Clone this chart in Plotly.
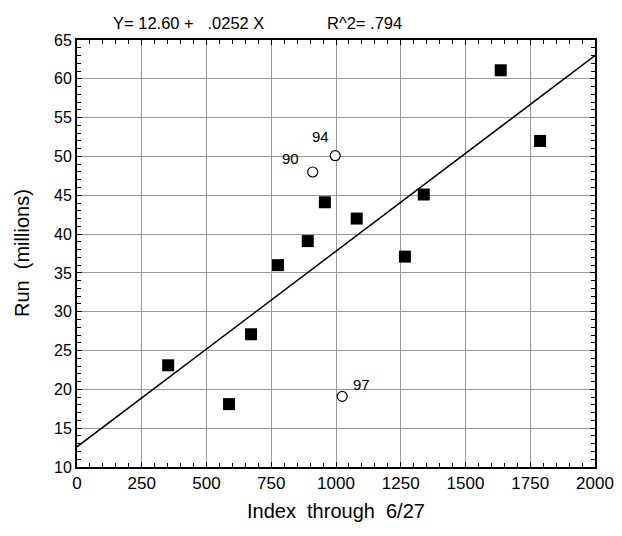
import plotly.graph_objects as go

# Filled squares (years without labels)
sq_x = [352, 587, 672, 776, 891, 957, 1080, 1266, 1339, 1636, 1788]
sq_y = [23.1, 18.1, 27.1, 36.0, 39.1, 44.1, 42.0, 37.1, 45.1, 61.1, 52.0]

# Open circles (labelled years)
ci_x = [910, 997, 1024]
ci_y = [48.0, 50.1, 19.1]
ci_labels = ["90", "94", "97"]

# Regression
intercept = 12.60
slope = 0.0252
x_range = [0, 2000]
y_range = [10, 65]

x_ticks = [0, 250, 500, 750, 1000, 1250, 1500, 1750, 2000]
y_ticks = [10, 15, 20, 25, 30, 35, 40, 45, 50, 55, 60, 65]

FONT = "Liberation Sans, Arial, sans-serif"

# Plot area in the window: x 77..595, y 40..467 (page has an 8px body margin)
PW, PH = 518, 427

fig = go.Figure()

fig.add_trace(go.Scatter(
    x=x_range, y=[intercept + slope * v for v in x_range],
    mode="lines", line=dict(color="black", width=1.5),
    hoverinfo="skip", showlegend=False))

fig.add_trace(go.Scatter(
    x=sq_x, y=sq_y, mode="markers",
    marker=dict(symbol="square", size=12, color="black", line=dict(width=0)),
    showlegend=False))

fig.add_trace(go.Scatter(
    x=ci_x, y=ci_y, mode="markers",
    marker=dict(symbol="circle", size=10, color="white",
                line=dict(width=1.2, color="black")),
    showlegend=False))

label_shift = {"90": (-22, 13), "94": (-15, 19), "97": (19, 12)}
for x, y, t in zip(ci_x, ci_y, ci_labels):
    dx, dy = label_shift[t]
    fig.add_annotation(x=x, y=y, text=t, showarrow=False,
                       xshift=dx, yshift=dy,
                       font=dict(family=FONT, size=15, color="black"))

fig.add_annotation(text="Y= 12.60 +\u00a0\u00a0 .0252 X", xref="paper", yref="paper",
                   x=(188 - 77) / PW, y=1 + (40 - 22.5) / PH,
                   xanchor="center", yanchor="middle", showarrow=False,
                   font=dict(family=FONT, size=16.5, color="black"))
fig.add_annotation(text="R^2= .794", xref="paper", yref="paper",
                   x=(364.5 - 77) / PW, y=1 + (40 - 22.5) / PH,
                   xanchor="center", yanchor="middle", showarrow=False,
                   font=dict(family=FONT, size=16.5, color="black"))

# Axis titles
fig.add_annotation(text="Index\u00a0 through\u00a0 6/27", xref="paper", yref="paper",
                   x=0.5, y=0, yshift=-(511 - 467),
                   xanchor="center", yanchor="middle", showarrow=False,
                   font=dict(family=FONT, size=20, color="black"))
fig.add_annotation(text="Run\u00a0 (millions)", xref="paper", yref="paper",
                   x=0, xshift=-(77 - 22), y=(467 - 253) / PH, textangle=-90,
                   xanchor="center", yanchor="middle", showarrow=False,
                   font=dict(family=FONT, size=20, color="black"))

axis_common = dict(
    showgrid=True, gridcolor="#9a9a9a", gridwidth=1.3,
    showline=True, linecolor="black", linewidth=2, mirror="allticks",
    ticks="inside", ticklen=5, tickwidth=1.3, tickcolor="black",
    zeroline=False, automargin=False,
)

fig.update_xaxes(
    range=x_range, tickmode="array", tickvals=x_ticks,
    ticktext=[str(v) for v in x_ticks],
    tickfont=dict(family=FONT, size=17, color="black"),
    minor=dict(ticks="inside", ticklen=4, tickwidth=1.2, tickcolor="black",
               dtick=50, showgrid=False),
    **axis_common)

fig.update_yaxes(
    range=y_range, tickmode="array", tickvals=y_ticks,
    ticktext=[str(v) for v in y_ticks],
    tickfont=dict(family=FONT, size=16, color="black"),
    minor=dict(ticks="inside", ticklen=4, tickwidth=1.2, tickcolor="black",
               dtick=1, showgrid=False),
    **axis_common)

fig.update_layout(
    width=614, height=528,
    margin=dict(l=69, r=27, t=32, b=69),
    plot_bgcolor="white", paper_bgcolor="white",
    showlegend=False,
)

fig.write_html("out.html")
